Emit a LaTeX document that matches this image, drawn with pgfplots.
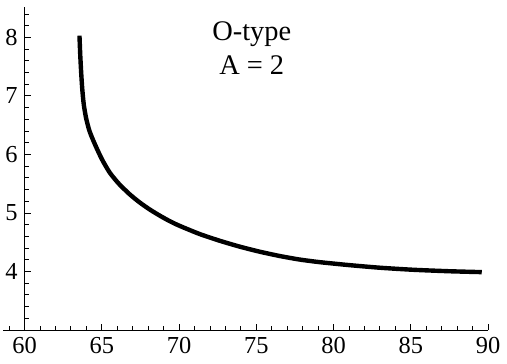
\documentclass[border=0pt]{standalone}
\usepackage{fontspec}
\setmainfont{Liberation Serif}
\usepackage{pgfplots}
\pgfplotsset{compat=1.18}
\usepackage{pgfplotstable}

% curve (x = angle, y = value)
\pgfplotstableread{
x      y
63.55  8.03
63.60  7.70
63.66  7.40
63.73  7.12
63.83  6.85
63.98  6.62
64.20  6.40
64.54  6.18
65.00  5.92
65.51  5.69
66.10  5.50
66.80  5.32
67.45  5.18
68.10  5.06
68.75  4.955
69.40  4.86
70.04  4.78
71.34  4.64
72.64  4.525
73.93  4.425
75.20  4.34
76.52  4.265
77.80  4.205
79.11  4.16
81.00  4.11
83.00  4.065
85.16  4.03
87.50  4.005
89.59  3.99
}\curvedata

\begin{document}
\begin{tikzpicture}
\begin{axis}[
    scale only axis,
    width=242.5pt, height=161.5pt,
    xmin=-1.4, xmax=30, ymin=0, ymax=5.52,
    axis lines=middle,
    axis line style={-, line width=0.5pt},
    hide obscured x ticks=false,
    hide obscured y ticks=false,
    tick align=inside,
    xtick={0,5,...,30},
    xticklabels={60,65,70,75,80,85,90},
    minor xtick={-1,0,...,30},
    ytick={1,2,3,4,5},
    yticklabels={4,5,6,7,8},
    minor ytick={0.2,0.4,...,5.45},
    major tick length=3pt,
    minor tick length=2pt,
    tick style={black, line width=0.5pt},
    ticklabel style={font=\fontsize{12.2}{14}\selectfont},
    clip=false,
]
\addplot[black, line width=2.2pt, smooth, tension=0.4]
    table[x expr=\thisrow{x}-60, y expr=\thisrow{y}-3] {\curvedata};
\node[align=center, anchor=north, inner sep=0pt,
      font=\fontsize{14.2}{17}\selectfont]
    at (axis cs:14.7,5.28) {O-type\\A = 2};
\coordinate (bl) at (rel axis cs:-0.0062,-0.102);
\coordinate (tr) at (rel axis cs:1.039,1.0217);
\end{axis}
\pgfresetboundingbox
\path (bl) rectangle (tr);
\end{tikzpicture}
\end{document}
